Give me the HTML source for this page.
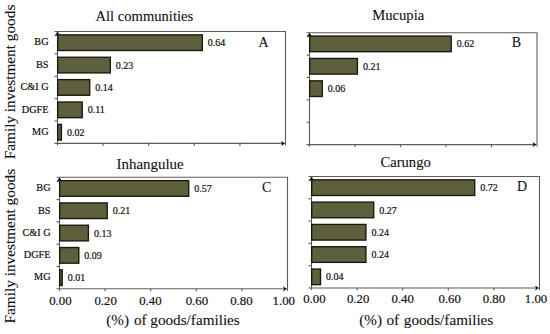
<!DOCTYPE html>
<html><head><meta charset="utf-8"><style>
html,body{margin:0;padding:0;background:#fff;width:550px;height:334px;overflow:hidden}
svg{display:block}
text{font-family:"Liberation Serif",serif;fill:#111;stroke:#111;stroke-width:0.2px}
.ti,.xt,.yt,.L{stroke-width:0.1px}
.v{font-size:10px}
.c{font-size:10.2px}
.t{font-size:12.8px}
.L{font-size:14px}
.xt{font-size:15.2px}
.yt{font-size:15.3px}
</style></head><body>
<svg width="550" height="334" viewBox="0 0 550 334">
<path d="M54.50 31.50H285.50V145.40" fill="none" stroke="#5c5c5c" stroke-width="1.1"/>
<path d="M54.50 143.40H283.50" fill="none" stroke="#5c5c5c" stroke-width="1.1"/>
<path d="M57.50 33.50V145.40" fill="none" stroke="#5c5c5c" stroke-width="1.1"/>
<path d="M54.50 53.88H57.50" stroke="#5c5c5c" stroke-width="1.1"/>
<path d="M54.50 76.26H57.50" stroke="#5c5c5c" stroke-width="1.1"/>
<path d="M54.50 98.64H57.50" stroke="#5c5c5c" stroke-width="1.1"/>
<path d="M54.50 121.02H57.50" stroke="#5c5c5c" stroke-width="1.1"/>
<path d="M103.10 143.40V145.90" stroke="#5c5c5c" stroke-width="1.1"/>
<path d="M148.70 143.40V145.90" stroke="#5c5c5c" stroke-width="1.1"/>
<path d="M194.30 143.40V145.90" stroke="#5c5c5c" stroke-width="1.1"/>
<path d="M239.90 143.40V145.90" stroke="#5c5c5c" stroke-width="1.1"/>
<path d="M57.50 31.80L60.20 35.90L57.50 35.10L54.80 35.90Z" fill="#111" stroke="#111" stroke-width="0.4"/>
<path d="M285.00 143.40L281.00 146.00L282.10 143.40L281.00 140.80Z" fill="#111"/>
<text class="c" transform="translate(48.50,45.49) scale(1,1.1)" text-anchor="end">BG</text>
<rect x="57.67" y="34.86" width="144.65" height="15.65" fill="#5e5f3c" stroke="#18180e" stroke-width="1.35"/>
<text class="v" transform="translate(207.80,46.29) scale(1,1.085)">0.64</text>
<text class="c" transform="translate(48.50,67.87) scale(1,1.1)" text-anchor="end">BS</text>
<rect x="57.67" y="57.25" width="52.65" height="15.65" fill="#5e5f3c" stroke="#18180e" stroke-width="1.35"/>
<text class="v" transform="translate(115.80,68.67) scale(1,1.085)">0.23</text>
<text class="c" transform="translate(48.50,90.25) scale(1,1.1)" text-anchor="end">C&amp;I G</text>
<rect x="57.67" y="79.62" width="32.05" height="15.65" fill="#5e5f3c" stroke="#18180e" stroke-width="1.35"/>
<text class="v" transform="translate(95.20,91.05) scale(1,1.085)">0.14</text>
<text class="c" transform="translate(48.50,112.63) scale(1,1.1)" text-anchor="end">DGFE</text>
<rect x="57.67" y="102.01" width="24.55" height="15.65" fill="#5e5f3c" stroke="#18180e" stroke-width="1.35"/>
<text class="v" transform="translate(87.70,113.43) scale(1,1.085)">0.11</text>
<text class="c" transform="translate(48.50,135.01) scale(1,1.1)" text-anchor="end">MG</text>
<rect x="57.67" y="124.39" width="3.75" height="15.65" fill="#5e5f3c" stroke="#18180e" stroke-width="1.35"/>
<text class="v" transform="translate(66.90,135.81) scale(1,1.085)">0.02</text>
<text class="ti" style="font-size:14.6px" x="95.5" y="20.5">All communities</text>
<text class="L" x="258.6" y="46.5">A</text>
<path d="M306.50 32.70H537.00V146.60" fill="none" stroke="#5c5c5c" stroke-width="1.1"/>
<path d="M306.50 144.60H535.00" fill="none" stroke="#5c5c5c" stroke-width="1.1"/>
<path d="M309.50 34.70V146.60" fill="none" stroke="#5c5c5c" stroke-width="1.1"/>
<path d="M306.50 55.08H309.50" stroke="#5c5c5c" stroke-width="1.1"/>
<path d="M306.50 77.46H309.50" stroke="#5c5c5c" stroke-width="1.1"/>
<path d="M306.50 99.84H309.50" stroke="#5c5c5c" stroke-width="1.1"/>
<path d="M306.50 122.22H309.50" stroke="#5c5c5c" stroke-width="1.1"/>
<path d="M355.00 144.60V147.10" stroke="#5c5c5c" stroke-width="1.1"/>
<path d="M400.50 144.60V147.10" stroke="#5c5c5c" stroke-width="1.1"/>
<path d="M446.00 144.60V147.10" stroke="#5c5c5c" stroke-width="1.1"/>
<path d="M491.50 144.60V147.10" stroke="#5c5c5c" stroke-width="1.1"/>
<path d="M309.50 33.00L312.20 37.10L309.50 36.30L306.80 37.10Z" fill="#111" stroke="#111" stroke-width="0.4"/>
<path d="M536.50 144.60L532.50 147.20L533.60 144.60L532.50 142.00Z" fill="#111"/>
<rect x="309.68" y="36.06" width="141.55" height="15.65" fill="#5e5f3c" stroke="#18180e" stroke-width="1.35"/>
<text class="v" transform="translate(456.70,47.49) scale(1,1.085)">0.62</text>
<rect x="309.68" y="58.45" width="47.75" height="15.65" fill="#5e5f3c" stroke="#18180e" stroke-width="1.35"/>
<text class="v" transform="translate(362.90,69.87) scale(1,1.085)">0.21</text>
<rect x="309.68" y="80.83" width="12.65" height="15.65" fill="#5e5f3c" stroke="#18180e" stroke-width="1.35"/>
<text class="v" transform="translate(327.80,92.25) scale(1,1.085)">0.06</text>
<text class="ti" style="font-size:14.6px" x="372.3" y="20">Mucupia</text>
<text class="L" x="511.8" y="46.5">B</text>
<path d="M56.50 177.30H287.50V290.80" fill="none" stroke="#5c5c5c" stroke-width="1.1"/>
<path d="M56.50 288.80H285.50" fill="none" stroke="#5c5c5c" stroke-width="1.1"/>
<path d="M59.50 179.30V290.80" fill="none" stroke="#5c5c5c" stroke-width="1.1"/>
<path d="M56.50 199.60H59.50" stroke="#5c5c5c" stroke-width="1.1"/>
<path d="M56.50 221.90H59.50" stroke="#5c5c5c" stroke-width="1.1"/>
<path d="M56.50 244.20H59.50" stroke="#5c5c5c" stroke-width="1.1"/>
<path d="M56.50 266.50H59.50" stroke="#5c5c5c" stroke-width="1.1"/>
<path d="M105.10 288.80V291.30" stroke="#5c5c5c" stroke-width="1.1"/>
<path d="M150.70 288.80V291.30" stroke="#5c5c5c" stroke-width="1.1"/>
<path d="M196.30 288.80V291.30" stroke="#5c5c5c" stroke-width="1.1"/>
<path d="M241.90 288.80V291.30" stroke="#5c5c5c" stroke-width="1.1"/>
<path d="M59.50 177.60L62.20 181.70L59.50 180.90L56.80 181.70Z" fill="#111" stroke="#111" stroke-width="0.4"/>
<path d="M287.00 288.80L283.00 291.40L284.10 288.80L283.00 286.20Z" fill="#111"/>
<text class="c" transform="translate(50.50,191.25) scale(1,1.1)" text-anchor="end">BG</text>
<rect x="59.67" y="180.63" width="129.05" height="15.65" fill="#5e5f3c" stroke="#18180e" stroke-width="1.35"/>
<text class="v" transform="translate(194.20,192.05) scale(1,1.085)">0.57</text>
<text class="c" transform="translate(50.50,213.55) scale(1,1.1)" text-anchor="end">BS</text>
<rect x="59.67" y="202.93" width="47.55" height="15.65" fill="#5e5f3c" stroke="#18180e" stroke-width="1.35"/>
<text class="v" transform="translate(112.70,214.35) scale(1,1.085)">0.21</text>
<text class="c" transform="translate(50.50,235.85) scale(1,1.1)" text-anchor="end">C&amp;I G</text>
<rect x="59.67" y="225.23" width="28.75" height="15.65" fill="#5e5f3c" stroke="#18180e" stroke-width="1.35"/>
<text class="v" transform="translate(93.90,236.65) scale(1,1.085)">0.13</text>
<text class="c" transform="translate(50.50,258.15) scale(1,1.1)" text-anchor="end">DGFE</text>
<rect x="59.67" y="247.53" width="19.15" height="15.65" fill="#5e5f3c" stroke="#18180e" stroke-width="1.35"/>
<text class="v" transform="translate(84.30,258.95) scale(1,1.085)">0.09</text>
<text class="c" transform="translate(50.50,280.45) scale(1,1.1)" text-anchor="end">MG</text>
<rect x="59.67" y="269.83" width="2.55" height="15.65" fill="#5e5f3c" stroke="#18180e" stroke-width="1.35"/>
<text class="v" transform="translate(67.70,281.25) scale(1,1.085)">0.01</text>
<text class="t" x="49.20" y="304.5">0.00</text>
<text class="t" x="94.40" y="304.5">0.20</text>
<text class="t" x="139.20" y="304.5">0.40</text>
<text class="t" x="185.70" y="304.5">0.60</text>
<text class="t" x="230.20" y="304.5">0.80</text>
<text class="t" x="272.60" y="304.5">1.00</text>
<text class="ti" style="font-size:14.9px" x="116.6" y="169">Inhangulue</text>
<text class="L" x="262" y="191.5">C</text>
<path d="M308.50 176.50H539.50V290.00" fill="none" stroke="#5c5c5c" stroke-width="1.1"/>
<path d="M308.50 288.00H537.50" fill="none" stroke="#5c5c5c" stroke-width="1.1"/>
<path d="M311.50 178.50V290.00" fill="none" stroke="#5c5c5c" stroke-width="1.1"/>
<path d="M308.50 198.80H311.50" stroke="#5c5c5c" stroke-width="1.1"/>
<path d="M308.50 221.10H311.50" stroke="#5c5c5c" stroke-width="1.1"/>
<path d="M308.50 243.40H311.50" stroke="#5c5c5c" stroke-width="1.1"/>
<path d="M308.50 265.70H311.50" stroke="#5c5c5c" stroke-width="1.1"/>
<path d="M357.10 288.00V290.50" stroke="#5c5c5c" stroke-width="1.1"/>
<path d="M402.70 288.00V290.50" stroke="#5c5c5c" stroke-width="1.1"/>
<path d="M448.30 288.00V290.50" stroke="#5c5c5c" stroke-width="1.1"/>
<path d="M493.90 288.00V290.50" stroke="#5c5c5c" stroke-width="1.1"/>
<path d="M311.50 176.80L314.20 180.90L311.50 180.10L308.80 180.90Z" fill="#111" stroke="#111" stroke-width="0.4"/>
<path d="M539.00 288.00L535.00 290.60L536.10 288.00L535.00 285.40Z" fill="#111"/>
<rect x="311.68" y="179.83" width="163.05" height="15.65" fill="#5e5f3c" stroke="#18180e" stroke-width="1.35"/>
<text class="v" transform="translate(480.20,191.25) scale(1,1.085)">0.72</text>
<rect x="311.68" y="202.12" width="62.05" height="15.65" fill="#5e5f3c" stroke="#18180e" stroke-width="1.35"/>
<text class="v" transform="translate(379.20,213.55) scale(1,1.085)">0.27</text>
<rect x="311.68" y="224.43" width="54.25" height="15.65" fill="#5e5f3c" stroke="#18180e" stroke-width="1.35"/>
<text class="v" transform="translate(371.40,235.85) scale(1,1.085)">0.24</text>
<rect x="311.68" y="246.73" width="54.25" height="15.65" fill="#5e5f3c" stroke="#18180e" stroke-width="1.35"/>
<text class="v" transform="translate(371.40,258.15) scale(1,1.085)">0.24</text>
<rect x="311.68" y="269.03" width="8.85" height="15.65" fill="#5e5f3c" stroke="#18180e" stroke-width="1.35"/>
<text class="v" transform="translate(326.00,280.45) scale(1,1.085)">0.04</text>
<text class="t" x="303.20" y="302.6">0.00</text>
<text class="t" x="346.90" y="302.6">0.20</text>
<text class="t" x="391.50" y="302.6">0.40</text>
<text class="t" x="438.50" y="302.6">0.60</text>
<text class="t" x="482.70" y="302.6">0.80</text>
<text class="t" x="524.80" y="302.6">1.00</text>
<text class="ti" style="font-size:14.6px" x="380.5" y="166.8">Carungo</text>
<text class="L" x="517" y="190.5">D</text>
<text class="xt" x="106.3" y="324.5">(%)<tspan dx="1"> of goods/families</tspan></text>
<text class="xt" x="359.3" y="325">(%)<tspan dx="0.5"> of </tspan><tspan dx="1">goods/families</tspan></text>
<text class="yt" transform="translate(15,159.3) rotate(-90)">Family investment goods</text>
<text class="yt" transform="translate(15.0,323.5) rotate(-90)">Family investment goods</text>
</svg>
</body></html>
